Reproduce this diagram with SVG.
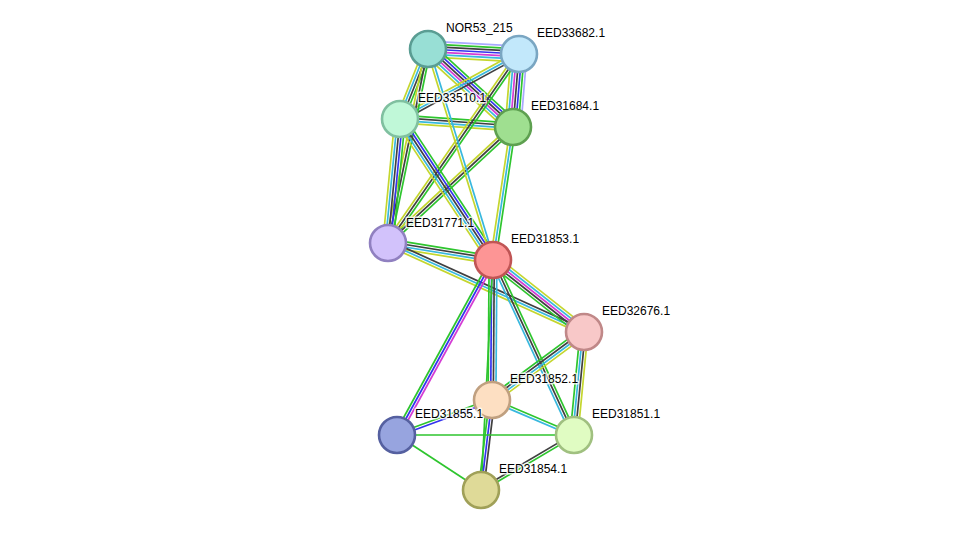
<svg xmlns="http://www.w3.org/2000/svg" width="976" height="536" viewBox="0 0 976 536">
<style>
line{stroke-width:1.7;fill:none}
.nb{stroke:#2ec52e}.co{stroke:#3434ee}.cx{stroke:#404040}.ex{stroke:#d43cd4}.db{stroke:#38b8de}.tm{stroke:#c4d62e}.hm{stroke:#a9a9ff}
.node circle{stroke-width:2.6}
text{font-family:"Liberation Sans",Arial,sans-serif;font-size:12px;fill:#000;stroke:#fff;stroke-width:3px;stroke-opacity:0.8;paint-order:stroke;stroke-linejoin:round}
</style>
<rect width="976" height="536" fill="#fff"/>
<g id="edges">
<g transform="translate(428,49) rotate(3.14)"><line x2="91.1" y1="-7.8" y2="-7.8" class="hm"/><line x2="91.1" y1="-5.2" y2="-5.2" class="nb"/><line x2="91.1" y1="-2.6" y2="-2.6" class="cx"/><line x2="91.1" class="co"/><line x2="91.1" y1="2.6" y2="2.6" class="ex"/><line x2="91.1" y1="5.2" y2="5.2" class="db"/><line x2="91.1" y1="7.8" y2="7.8" class="tm"/></g>
<g transform="translate(428,49) rotate(42.54)"><line x2="115.4" y1="-6.5" y2="-6.5" class="nb"/><line x2="115.4" y1="-3.9" y2="-3.9" class="co"/><line x2="115.4" y1="-1.3" y2="-1.3" class="cx"/><line x2="115.4" y1="1.3" y2="1.3" class="ex"/><line x2="115.4" y1="3.9" y2="3.9" class="db"/><line x2="115.4" y1="6.5" y2="6.5" class="tm"/></g>
<g transform="translate(519,54) rotate(94.70)"><line x2="73.3" y1="-7.8" y2="-7.8" class="hm"/><line x2="73.3" y1="-5.2" y2="-5.2" class="nb"/><line x2="73.3" y1="-2.6" y2="-2.6" class="co"/><line x2="73.3" class="cx"/><line x2="73.3" y1="2.6" y2="2.6" class="ex"/><line x2="73.3" y1="5.2" y2="5.2" class="db"/><line x2="73.3" y1="7.8" y2="7.8" class="tm"/></g>
<g transform="translate(428,49) rotate(111.8)"><line x2="75.4" y1="-3.9" y2="-3.9" class="nb"/><line x2="75.4" y1="-1.3" y2="-1.3" class="cx"/><line x2="75.4" y1="1.3" y2="1.3" class="db"/><line x2="75.4" y1="3.9" y2="3.9" class="tm"/></g>
<g transform="translate(519,54) rotate(151.36)"><line x2="135.6" y1="-2.6" y2="-2.6" class="cx"/><line x2="135.6" class="db"/><line x2="135.6" y1="2.6" y2="2.6" class="tm"/></g>
<g transform="translate(400,119) rotate(4.05)"><line x2="113.3" y1="-3.9" y2="-3.9" class="nb"/><line x2="113.3" y1="-1.3" y2="-1.3" class="cx"/><line x2="113.3" y1="1.3" y2="1.3" class="db"/><line x2="113.3" y1="3.9" y2="3.9" class="tm"/></g>
<g transform="translate(428,49) rotate(101.65)"><line x2="198.1" y1="-2.6" y2="-2.6" class="nb"/><line x2="198.1" class="cx"/><line x2="198.1" y1="2.6" y2="2.6" class="tm"/></g>
<g transform="translate(400,119) rotate(95.53)"><line x2="124.6" y1="-5.2" y2="-5.2" class="nb"/><line x2="124.6" y1="-2.6" y2="-2.6" class="co"/><line x2="124.6" class="cx"/><line x2="124.6" y1="2.6" y2="2.6" class="db"/><line x2="124.6" y1="5.2" y2="5.2" class="tm"/></g>
<g transform="translate(519,54) rotate(124.73)"><line x2="230" y1="-2.6" y2="-2.6" class="nb"/><line x2="230" class="cx"/><line x2="230" y1="2.6" y2="2.6" class="tm"/></g>
<g transform="translate(513,127) rotate(137.14)"><line x2="170.5" y1="-2.6" y2="-2.6" class="nb"/><line x2="170.5" class="cx"/><line x2="170.5" y1="2.6" y2="2.6" class="tm"/></g>
<g transform="translate(400,119) rotate(56.59)"><line x2="168.9" y1="-5.2" y2="-5.2" class="nb"/><line x2="168.9" y1="-2.6" y2="-2.6" class="co"/><line x2="168.9" class="cx"/><line x2="168.9" y1="2.6" y2="2.6" class="db"/><line x2="168.9" y1="5.2" y2="5.2" class="tm"/></g>
<g transform="translate(428,49) rotate(72.88)"><line x2="220.8" y1="-1.3" y2="-1.3" class="db"/><line x2="220.8" y1="1.3" y2="1.3" class="tm"/></g>
<g transform="translate(513,127) rotate(98.55)"><line x2="134.5" y1="-2.6" y2="-2.6" class="nb"/><line x2="134.5" class="db"/><line x2="134.5" y1="2.6" y2="2.6" class="tm"/></g>
<g transform="translate(388,243) rotate(9.20)"><line x2="106.4" y1="-3.9" y2="-3.9" class="nb"/><line x2="106.4" y1="-1.3" y2="-1.3" class="cx"/><line x2="106.4" y1="1.3" y2="1.3" class="db"/><line x2="106.4" y1="3.9" y2="3.9" class="tm"/></g>
<g transform="translate(388,243) rotate(24.42)"><line x2="215.3" y1="-2.6" y2="-2.6" class="cx"/><line x2="215.3" class="db"/><line x2="215.3" y1="2.6" y2="2.6" class="tm"/></g>
<g transform="translate(493,260) rotate(38.35)"><line x2="116" y1="-5.2" y2="-5.2" class="tm"/><line x2="116" y1="-2.6" y2="-2.6" class="db"/><line x2="116" class="ex"/><line x2="116" y1="2.6" y2="2.6" class="cx"/><line x2="116" y1="5.2" y2="5.2" class="nb"/></g>
<g transform="translate(493,260) rotate(90.41)"><line x2="140" y1="-3.9" y2="-3.9" class="db"/><line x2="140" y1="-1.3" y2="-1.3" class="cx"/><line x2="140" y1="1.3" y2="1.3" class="co"/><line x2="140" y1="3.9" y2="3.9" class="nb"/></g>
<g transform="translate(493,260) rotate(118.75)"><line x2="199.6" y1="-2.6" y2="-2.6" class="ex"/><line x2="199.6" class="co"/><line x2="199.6" y1="2.6" y2="2.6" class="nb"/></g>
<g transform="translate(493,260) rotate(65.16)"><line x2="192.8" y1="-2.6" y2="-2.6" class="nb"/><line x2="192.8" class="cx"/><line x2="192.8" y1="2.6" y2="2.6" class="db"/></g>
<g transform="translate(493,260) rotate(92.99)"><line x2="230.3" class="nb"/></g>
<g transform="translate(584,332) rotate(143.53)"><line x2="114.4" y1="-3.9" y2="-3.9" class="tm"/><line x2="114.4" y1="-1.3" y2="-1.3" class="db"/><line x2="114.4" y1="1.3" y2="1.3" class="cx"/><line x2="114.4" y1="3.9" y2="3.9" class="nb"/></g>
<g transform="translate(584,332) rotate(95.55)"><line x2="103.5" y1="-3.9" y2="-3.9" class="tm"/><line x2="103.5" y1="-1.3" y2="-1.3" class="cx"/><line x2="103.5" y1="1.3" y2="1.3" class="db"/><line x2="103.5" y1="3.9" y2="3.9" class="nb"/></g>
<g transform="translate(492,400) rotate(159.78)"><line x2="101.2" y1="-1.3" y2="-1.3" class="co"/><line x2="101.2" y1="1.3" y2="1.3" class="nb"/></g>
<g transform="translate(492,400) rotate(23.11)"><line x2="89.2" y1="-1.3" y2="-1.3" class="nb"/><line x2="89.2" y1="1.3" y2="1.3" class="db"/></g>
<g transform="translate(492,400) rotate(96.97)"><line x2="90.7" y1="-2.6" y2="-2.6" class="cx"/><line x2="90.7" class="co"/><line x2="90.7" y1="2.6" y2="2.6" class="nb"/></g>
<g transform="translate(397,435)"><line x2="177" class="nb"/></g>
<g transform="translate(397,435) rotate(33.22)"><line x2="100.4" class="nb"/></g>
<g transform="translate(574,435) rotate(149.40)"><line x2="108.1" y1="-1.3" y2="-1.3" class="nb"/><line x2="108.1" y1="1.3" y2="1.3" class="cx"/></g>
</g>
<g id="NOR53_215" class="node"><circle cx="428" cy="49" r="18" fill="#98dfd5" stroke="#5a9d93"/><text x="446" y="32">NOR53_215</text></g>
<g id="EED33682.1" class="node"><circle cx="519" cy="54" r="18" fill="#c2e8fb" stroke="#7aa6c2"/><text x="537" y="37">EED33682.1</text></g>
<g id="EED33510.1" class="node"><circle cx="400" cy="119" r="18" fill="#c0f8d8" stroke="#80c0a0"/><text x="418" y="102">EED33510.1</text></g>
<g id="EED31684.1" class="node"><circle cx="513" cy="127" r="18" fill="#9fdf90" stroke="#5ea050"/><text x="531" y="110">EED31684.1</text></g>
<g id="EED31771.1" class="node"><circle cx="388" cy="243" r="18" fill="#d2c2fb" stroke="#9080c0"/><text x="406" y="227">EED31771.1</text></g>
<g id="EED31853.1" class="node"><circle cx="493" cy="260" r="18" fill="#fd9595" stroke="#c05555"/><text x="511" y="243">EED31853.1</text></g>
<g id="EED32676.1" class="node"><circle cx="584" cy="332" r="18" fill="#f8c8c8" stroke="#c08888"/><text x="602" y="315">EED32676.1</text></g>
<g id="EED31852.1" class="node"><circle cx="492" cy="400" r="18" fill="#fddfc2" stroke="#c0a080"/><text x="510" y="383">EED31852.1</text></g>
<g id="EED31855.1" class="node"><circle cx="397" cy="435" r="18" fill="#97a4df" stroke="#5560a0"/><text x="415" y="418">EED31855.1</text></g>
<g id="EED31851.1" class="node"><circle cx="574" cy="435" r="18" fill="#e0fcc2" stroke="#a0c080"/><text x="592" y="418">EED31851.1</text></g>
<g id="EED31854.1" class="node"><circle cx="481" cy="490" r="18" fill="#dfda98" stroke="#a0a058"/><text x="499" y="473">EED31854.1</text></g>
</svg>
